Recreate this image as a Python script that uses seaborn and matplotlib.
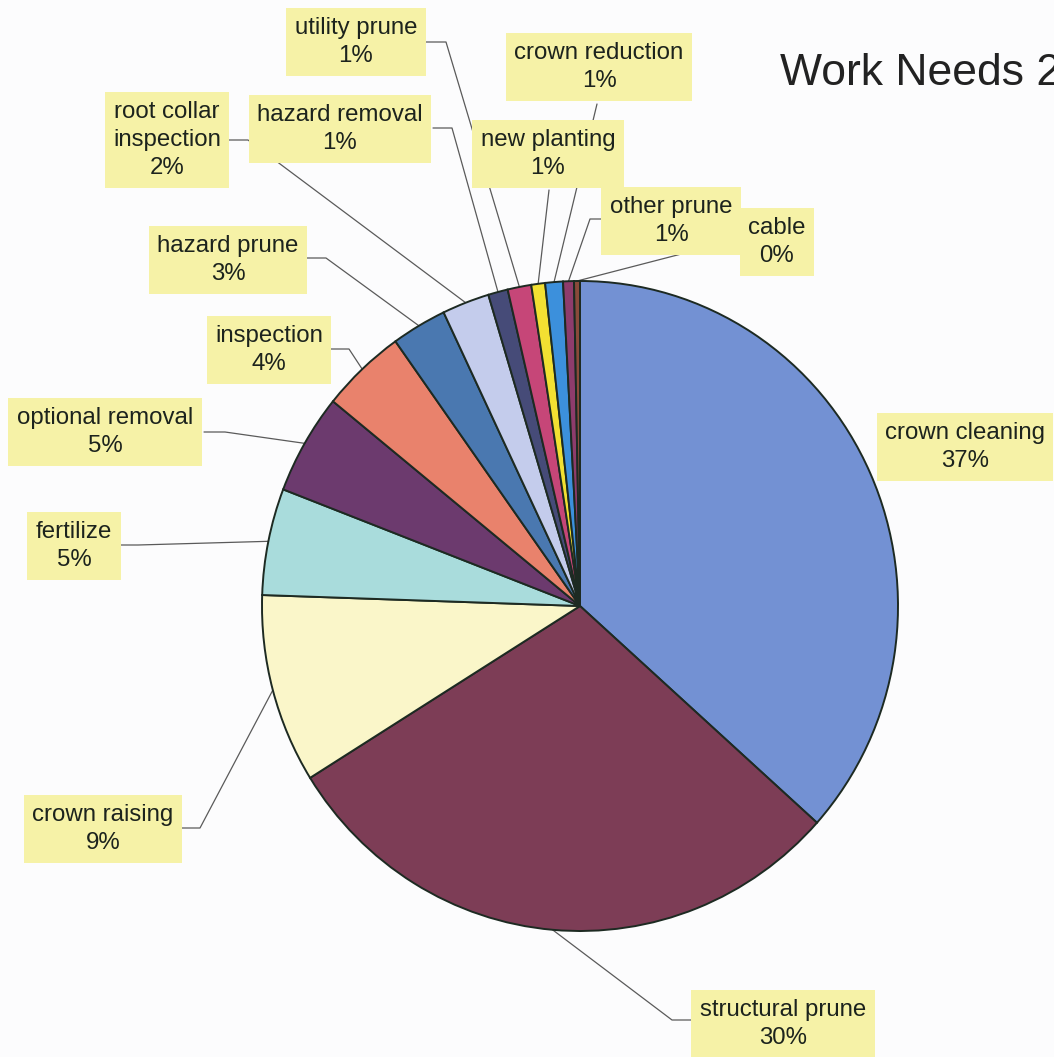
import matplotlib
matplotlib.use("Agg")
import matplotlib.pyplot as plt
import seaborn as sns
import numpy as np

# ---------------- data ----------------
categories = ["crown cleaning", "structural prune", "crown raising", "fertilize",
              "optional removal", "inspection", "hazard prune", "root collar\ninspection",
              "hazard removal", "utility prune", "new planting", "crown reduction",
              "other prune", "cable"]
shares = [36.6, 29.5, 9.4, 5.3, 5.0, 4.3, 2.8, 2.4, 1.0, 1.2, 0.7, 0.9, 0.55, 0.3]
slice_colors = ["#7391D3", "#7D3D56", "#FAF6C9", "#A9DCDC", "#6C3A6E", "#E9826C",
                "#4A78B0", "#C4CCEC", "#464B78", "#C64678", "#F2E032", "#3C90DC",
                "#8E3C6C", "#8A4A3A"]
title_text = "Work Needs 2"

# ---------------- layout (pixels, y downward) ----------------
W, H = 1054, 1057
K = 325 / 318          # slight vertical stretch of the scanned pie

def P(x, y):
    return x, (H - y) / K

# text centre, leader start on box, optional elbow
label_layout = [
    ((965, 447), None, None),
    ((783, 1024), (691, 1020), (672, 1020)),
    ((103, 829), (181, 828), (200, 828)),
    ((74, 546), (119, 545), (138, 545)),
    ((105, 432), (204, 432), (225, 432)),
    ((269, 350), (331, 349), (349, 349)),
    ((228, 260), (306, 258), (326, 258)),
    ((167, 140), (228, 140), (248, 140)),
    ((340, 129), (433, 128), (452, 128)),
    ((356, 42), (425, 42), (446, 42)),
    ((548, 154), (549, 190), None),
    ((599, 67), (597, 104), None),
    ((671, 221), (605, 219), (590, 219)),
    ((777, 242), (743, 238), None),
]

sns.set_theme(style="white")
plt.rcParams['font.family'] = ['Liberation Sans', 'DejaVu Sans']

bg = "#FCFCFD"
fig = plt.figure(figsize=(W / 100, H / 100), dpi=100, facecolor=bg)
ax = fig.add_axes([0, 0, 1, 1])
ax.set_facecolor(bg)

cx, cy = P(580, 606)
R = 318
wedges, _ = ax.pie(shares, colors=slice_colors, startangle=90, counterclock=False,
                   center=(cx, cy), radius=R,
                   wedgeprops=dict(edgecolor="#1d2a22", linewidth=1.4, zorder=2))
ax.set_aspect('auto')
ax.set_xlim(0, W)
ax.set_ylim(0, H / K)
ax.axis('off')

total = sum(shares)
for w, name, val, (tpos, start, elbow) in zip(wedges, categories, shares, label_layout):
    pct = int(np.floor(val / total * 100 + 0.5))
    tx, ty = P(*tpos)
    ax.text(tx, ty, f"{name}\n{pct}%", ha='center', va='center', fontsize=17.3,
            linespacing=1.38, color="#1c231d", zorder=4,
            bbox=dict(boxstyle='square,pad=0.35', fc="#F6F2A7", ec='none'))
    if start is not None:
        mid = np.deg2rad((w.theta1 + w.theta2) / 2)
        ex, ey = cx + R * np.cos(mid), cy + R * np.sin(mid)
        pts = [P(*start)] + ([P(*elbow)] if elbow else []) + [(ex, ey)]
        xs, ys = zip(*pts)
        ax.plot(xs, ys, color="#5a5a5a", lw=0.9, zorder=1)

tx, ty = P(780, 85)
ax.text(tx, ty, title_text, ha='left', va='baseline', fontsize=32, color="#222222")

fig.savefig("out.png", dpi=100, facecolor=bg)
